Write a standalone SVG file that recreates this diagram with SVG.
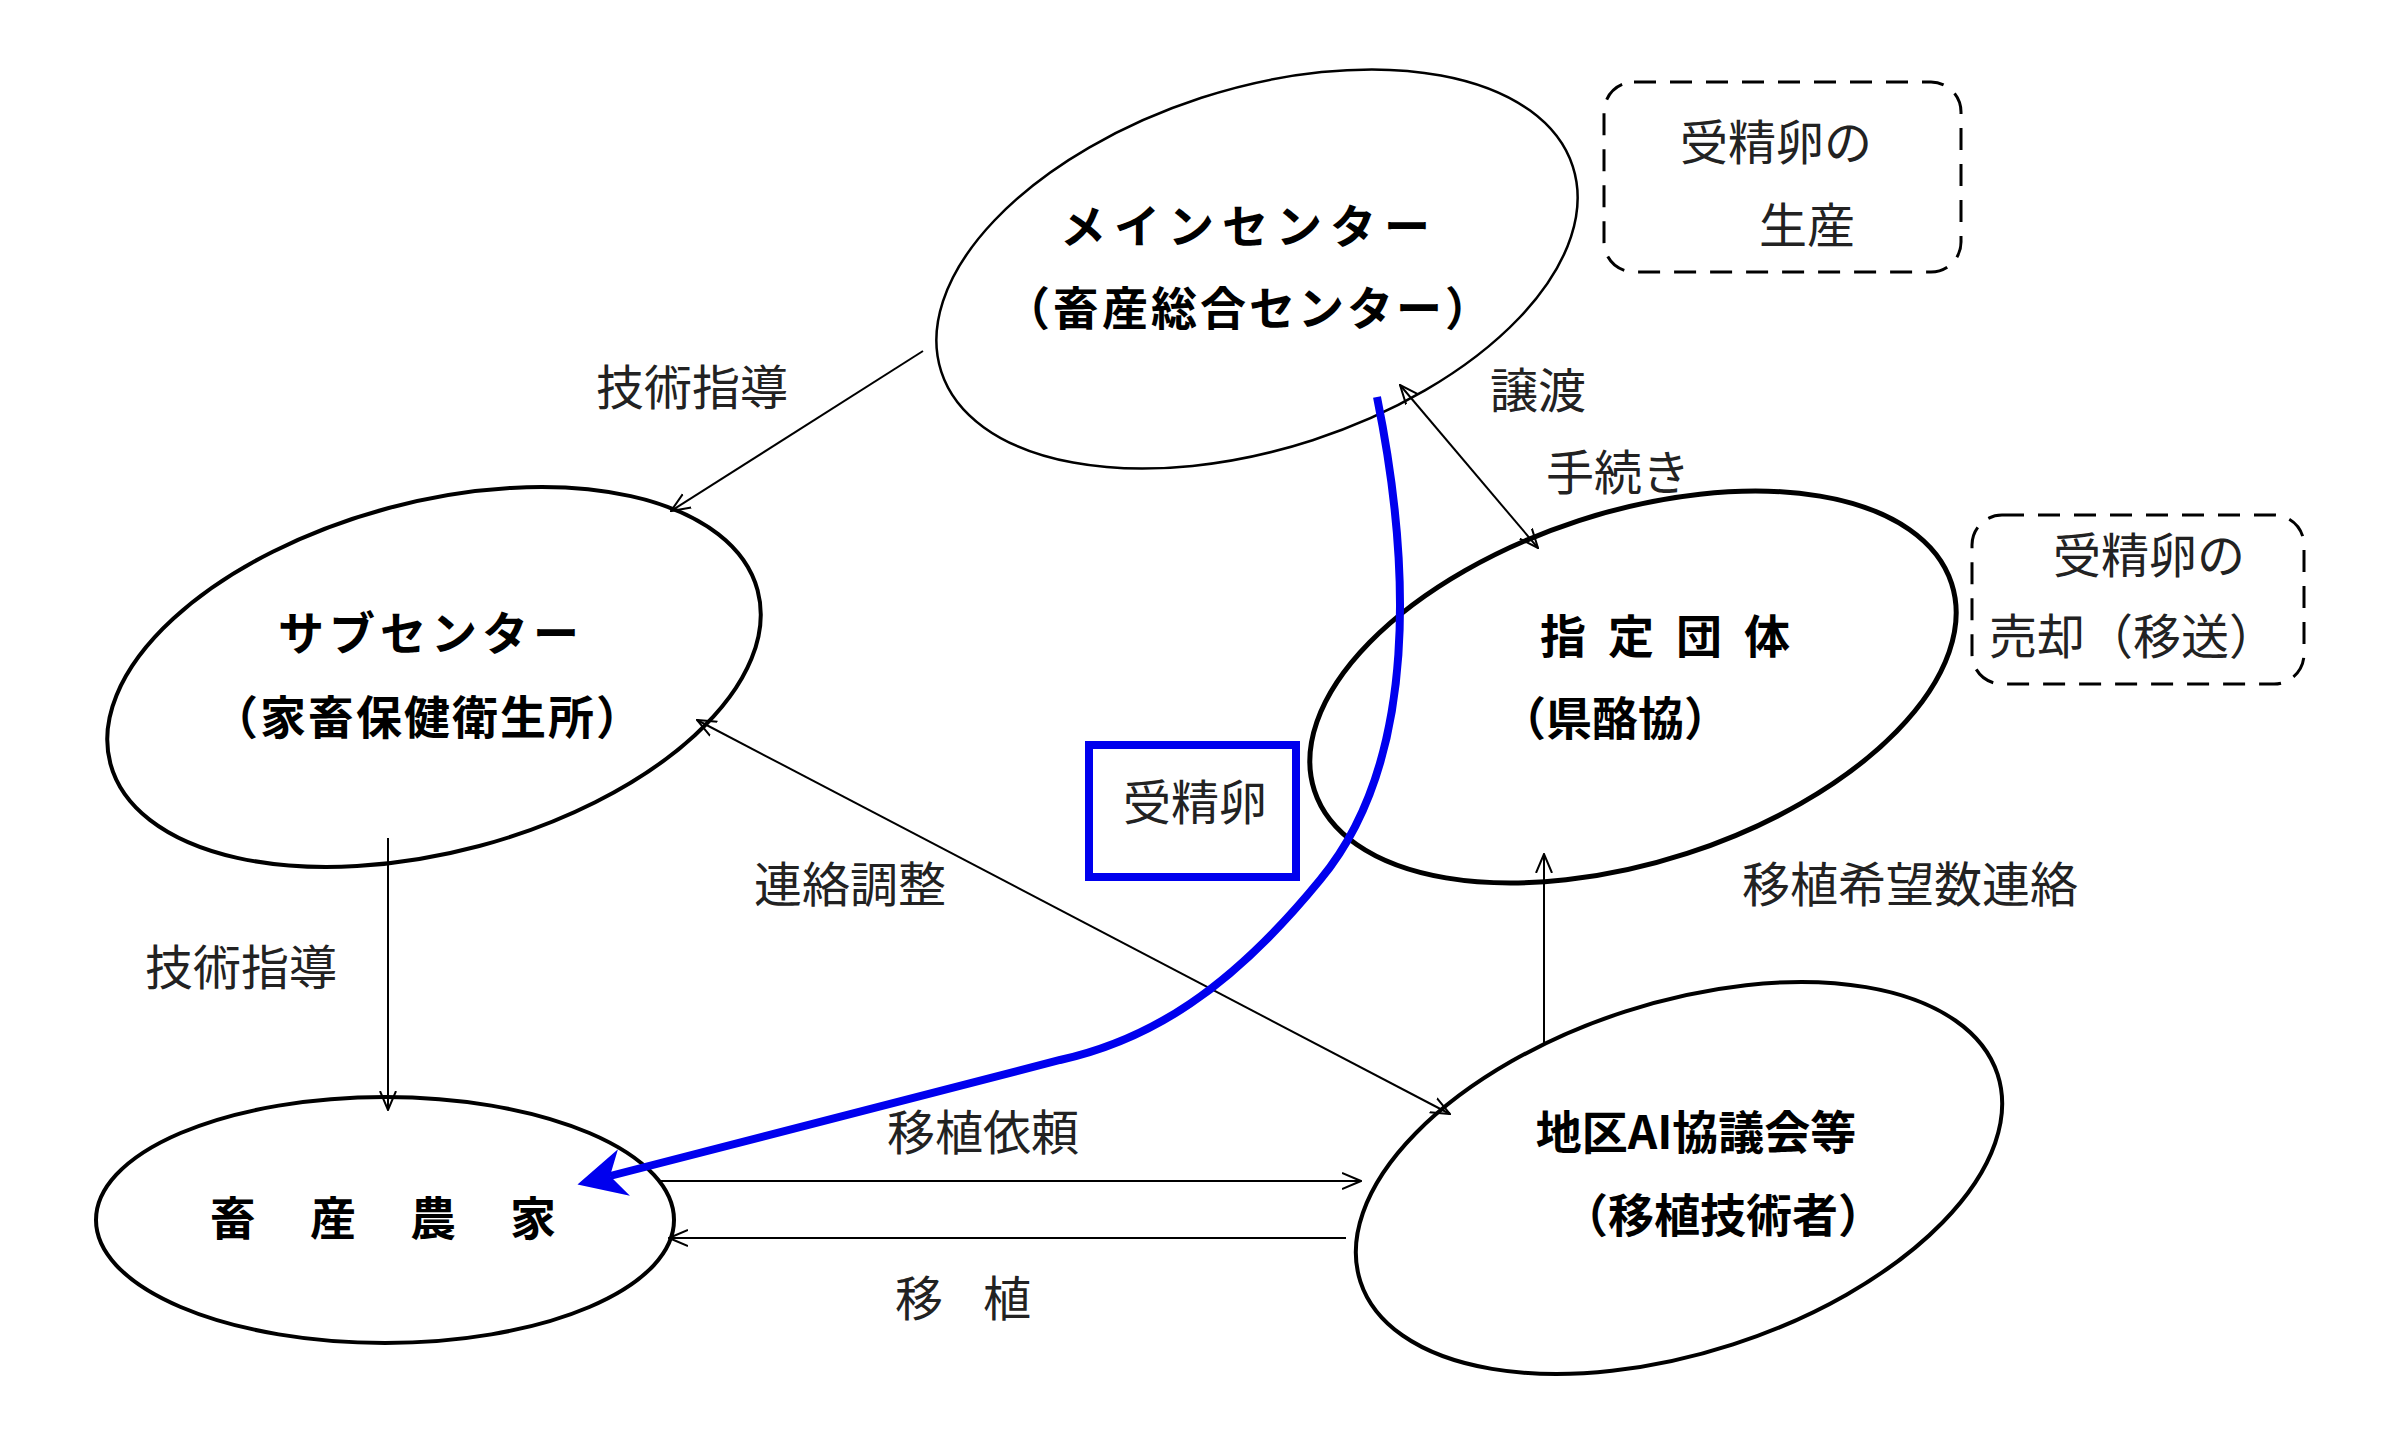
<svg xmlns="http://www.w3.org/2000/svg" width="2399" height="1435" viewBox="0 0 2399 1435">
<style>
.n{fill:#fff;stroke:#000}
.b{font-family:"Noto Sans CJK JP",sans-serif;font-weight:bold;font-size:46px;text-anchor:middle;fill:#000}
.t{font-family:"Noto Sans CJK JP",sans-serif;font-size:48px;text-anchor:middle;fill:#222}
.c{stroke:#000;stroke-width:2;fill:none}
.d{fill:none;stroke:#000;stroke-width:3;stroke-dasharray:22 14}
</style>
<defs>
<marker id="a" viewBox="0 0 20 20" refX="19" refY="10" markerWidth="20" markerHeight="20" markerUnits="userSpaceOnUse" orient="auto-start-reverse"><path d="M0,2 L19,10 L0,18" fill="none" stroke="#000" stroke-width="2"/></marker>
<marker id="ab" viewBox="0 0 10 10" refX="3" refY="5" markerWidth="6" markerHeight="6" orient="auto"><path d="M0,0 L10,5 L0,10 L3,5 Z" fill="#0000ee"/></marker>
</defs>
<rect width="2399" height="1435" fill="#fff"/>
<g id="main"><ellipse class="n" stroke-width="2.5" cx="1257" cy="269" rx="332" ry="180" transform="rotate(-18 1257 269)"/>
<text class="b" x="1249" y="243" letter-spacing="8">メインセンター</text><text class="b" x="1249" y="325" letter-spacing="3">（畜産総合センター）</text></g>
<g id="sub"><ellipse class="n" stroke-width="4" cx="434" cy="677" rx="335" ry="175" transform="rotate(-15 434 677)"/>
<text class="b" x="431" y="650" letter-spacing="5">サブセンター</text><text class="b" x="428" y="734" letter-spacing="2">（家畜保健衛生所）</text></g>
<g id="shitei"><ellipse class="n" stroke-width="5" cx="1633" cy="687" rx="335" ry="175" transform="rotate(-18 1633 687)"/>
<text class="b" x="1676" y="653" letter-spacing="22">指定団体</text><text class="b" x="1615" y="735">（県酪協）</text></g>
<g id="farm"><ellipse class="n" stroke-width="4" cx="385" cy="1220" rx="289" ry="123"/>
<text class="b" x="410" y="1235" letter-spacing="54">畜産農家</text></g>
<g id="ai"><ellipse class="n" stroke-width="4" cx="1679" cy="1178" rx="335" ry="175" transform="rotate(-18 1679 1178)"/>
<text class="b" x="1696" y="1149">地区AI協議会等</text><text class="b" x="1723" y="1232">（移植技術者）</text></g>
<g id="box1"><rect class="d" x="1604" y="82" width="357" height="190" rx="30"/>
<text class="t" x="1776" y="160">受精卵の</text><text class="t" x="1807" y="243">生産</text></g>
<g id="box2"><rect class="d" x="1972" y="515" width="332" height="169" rx="30"/>
<text class="t" x="2149" y="573">受精卵の</text><text class="t" x="2133" y="654">売却（移送）</text></g>
<g id="connectors">
<line class="c" x1="923" y1="351" x2="671" y2="511" marker-end="url(#a)"/>
<line class="c" x1="1400" y1="385" x2="1538" y2="548" marker-start="url(#a)" marker-end="url(#a)"/>
<line class="c" x1="697" y1="720" x2="1450" y2="1114" marker-start="url(#a)" marker-end="url(#a)"/>
<line class="c" x1="388" y1="838" x2="388" y2="1110" marker-end="url(#a)"/>
<line class="c" x1="1544" y1="1046" x2="1544" y2="854" marker-end="url(#a)"/>
<line class="c" x1="661" y1="1181" x2="1361" y2="1181" marker-end="url(#a)"/>
<line class="c" x1="1346" y1="1238" x2="669" y2="1238" marker-end="url(#a)"/>
</g>
<g id="labels">
<text class="t" x="692" y="405">技術指導</text>
<text class="t" x="1538" y="408">譲渡</text>
<text class="t" x="1618" y="490">手続き</text>
<text class="t" x="850" y="902">連絡調整</text>
<text class="t" x="241" y="985">技術指導</text>
<text class="t" x="1910" y="902">移植希望数連絡</text>
<text class="t" x="983" y="1150">移植依頼</text>
<text class="t" x="983" y="1316" letter-spacing="40">移植</text>
</g>
<g id="egg"><path d="M1377,397 C1410,560 1420,760 1320,880 C1230,990 1150,1040 1060,1060 L610,1176" fill="none" stroke="#0000ee" stroke-width="8" marker-end="url(#ab)"/>
<rect x="1089" y="745" width="207" height="132" fill="none" stroke="#0000ee" stroke-width="8"/>
<text class="t" x="1195" y="820">受精卵</text></g>
</svg>
